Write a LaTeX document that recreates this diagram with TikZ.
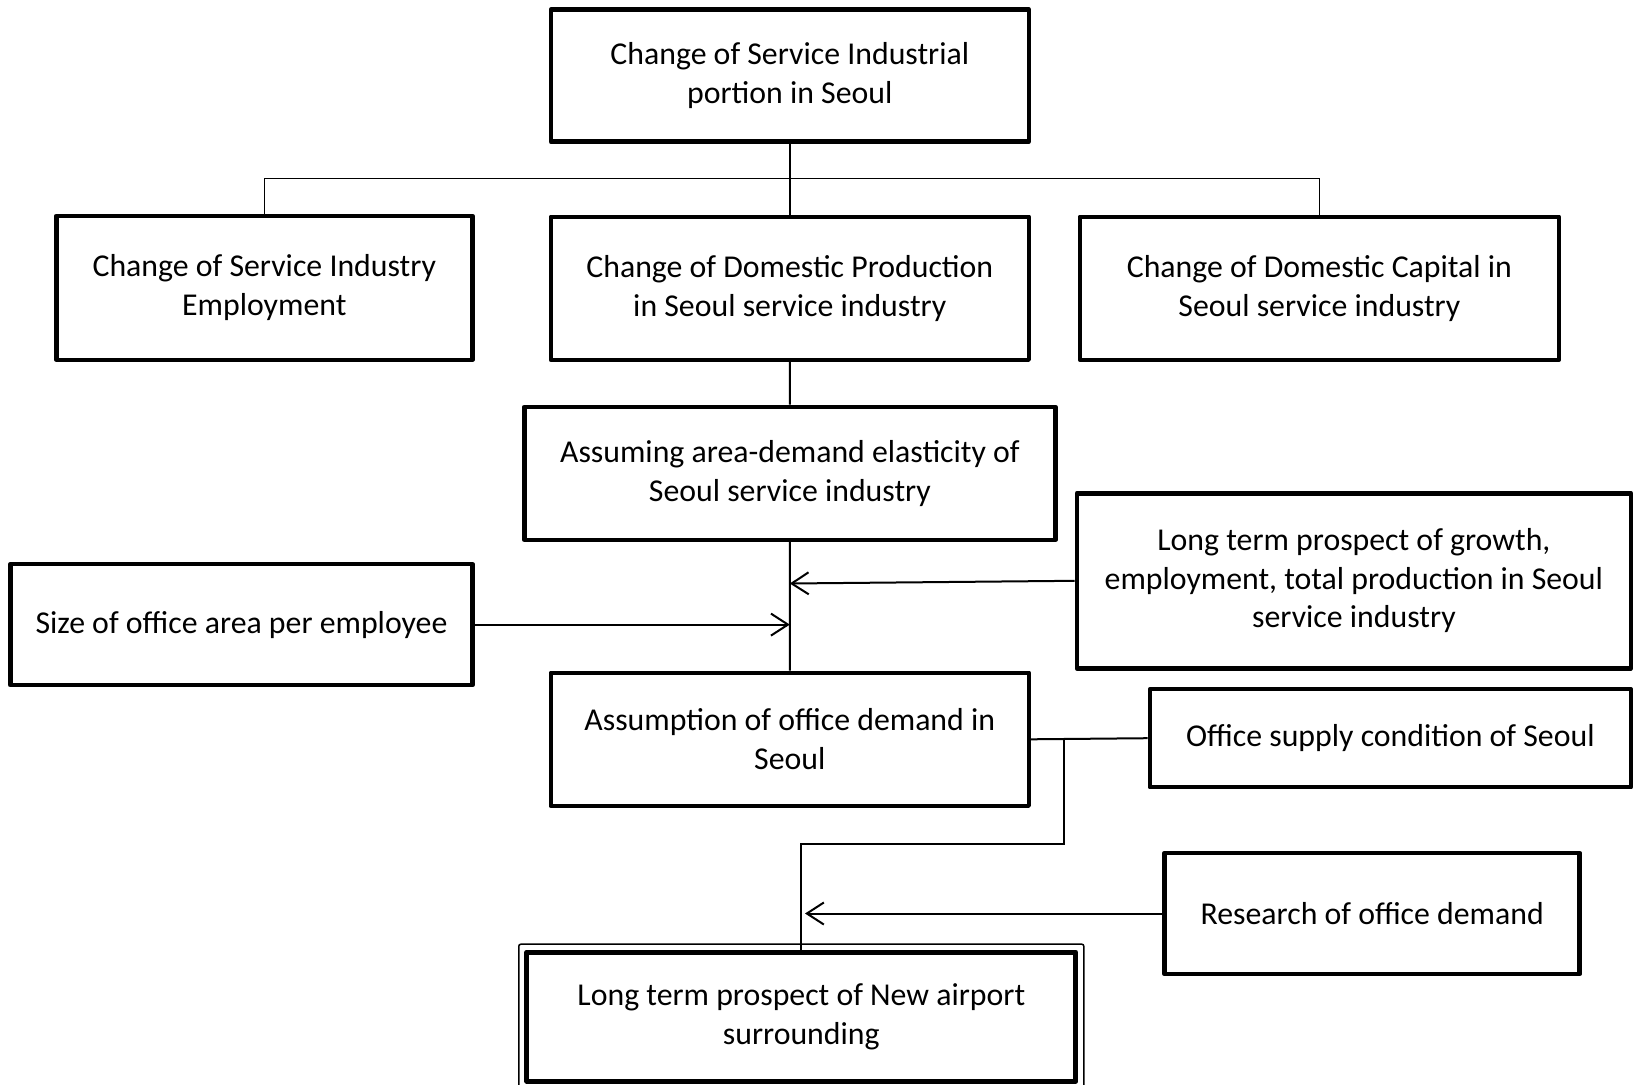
\documentclass[tikz,border=0pt]{standalone}
\usepackage{fontspec}
\setmainfont{Carlito}
\usetikzlibrary{arrows.meta}

\begin{document}
\begin{tikzpicture}[x=1pt, y=-1pt, >={Straight Barb[length=17pt,width=22pt]},
    font=\fontsize{31.8}{38.6}\selectfont,
    block/.style={draw, line width=4.5pt, line join=round, align=center, inner sep=0pt},
    link/.style={line width=2pt}]
    \useasboundingbox (0,0) rectangle (1635,1084);

    % Top level
    \node[block, minimum width=478pt, minimum height=132pt] (port) at (789.8,75.6) {Change of Service Industrial\\portion in Seoul};

    \node[block, minimum width=416pt, minimum height=144pt] (emp) at (264.3,287.8) {Change of Service Industry\\Employment};
    \node[block, minimum width=478pt, minimum height=143pt] (prod) at (789.8,288.3) {Change of Domestic Production\\in Seoul service industry};
    \node[block, minimum width=479pt, minimum height=143pt] (cap) at (1319.4,288.3) {Change of Domestic Capital in\\Seoul service industry};

    \coordinate (bus) at (789.8,178.3);
    \draw[link] (port.south) -- (prod.north);
    \draw[line width=1.5pt] (emp.north) |- (bus) -| (cap.north);

    % Middle: elasticity and inputs
    \node[block, minimum width=531pt, minimum height=133pt] (elas) at (789.9,473.4) {Assuming area-demand elasticity of\\Seoul service industry};
    \node[block, minimum width=554pt, minimum height=175pt] (grow) at (1353.9,580.8) {Long term prospect of growth,\\employment, total production in Seoul\\service industry};
    \node[block, minimum width=462pt, minimum height=121pt] (size) at (241.4,624.6) {Size of office area per employee};
    \node[block, minimum width=478pt, minimum height=133pt] (dem) at (789.8,739.3) {Assumption of office demand in\\Seoul};

    \coordinate (in1) at (789.8,583.5);
    \coordinate (in2) at (789.8,624.6);
    \draw[link] (prod.south) -- (elas.north);
    \draw[link] (elas.south) -- (dem.north);
    \draw[link, ->] (grow.west) -- (in1);
    \draw[link, ->] (size.east) -- (in2);

    % Bottom: supply, research, airport
    \node[block, minimum width=481pt, minimum height=98pt] (sup) at (1390.4,738.2) {Office supply condition of Seoul};
    \node[block, minimum width=415pt, minimum height=121pt] (res) at (1372.2,913.5) {Research of office demand};
    \node[block, line width=5pt, minimum width=549pt, minimum height=129pt] (air) at (801.3,1016.7) {Long term prospect of New airport\\surrounding};
    \draw[line width=1.5pt, rounded corners=2pt] ([shift={(-5.5pt,5.5pt)}]air.north west) rectangle ([shift={(5.5pt,-5.5pt)}]air.south east);

    \coordinate (split) at (1063.6,739.3);
    \coordinate (turn) at (801.3,843.5);
    \coordinate (in3) at (805,913.5);
    \draw[link] (dem.east) -- (sup.west);
    \draw[link] (split) |- (turn) -- (air.north);
    \draw[link, ->] (res.west) -- (in3);
\end{tikzpicture}
\end{document}
